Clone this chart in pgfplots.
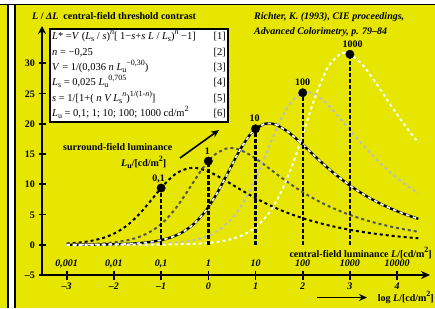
\documentclass[border=0pt]{standalone}
\usepackage{pgfplots}
\pgfplotsset{compat=1.18}
\usepackage{fontspec}
\setmainfont{Liberation Serif}
\usetikzlibrary{arrows.meta}
\definecolor{bgy}{RGB}{230,230,0}
\definecolor{dgray}{RGB}{85,85,85}
\definecolor{lgray}{RGB}{190,190,190}
\newcommand\sups[1]{\raisebox{0.42em}{\fontsize{8}{8}\selectfont #1}}
\newcommand\subs[1]{\raisebox{-0.22em}{\fontsize{8}{8}\selectfont #1}}
\begin{document}
\begin{tikzpicture}
\begin{scope}[x=1pt,y=-1pt]
\path[use as bounding box] (0,0) rectangle (435,308);
\fill[bgy] (0,0) rectangle (435,308);
\fill[white] (0,0) rectangle (435,3.5);
\fill[black] (0,3.5) rectangle (435,5);
\fill[black] (7,3.5) rectangle (8.7,308);
\fill[white] (8.7,5) rectangle (13.5,308);
\fill[black] (13.5,3.5) rectangle (15.5,308);
\end{scope}
\begin{axis}[at={(0pt,0pt)}, anchor=north west, scale only axis,
  width=435pt, height=308pt,
  xmin=-4.4131, xmax=4.8030, ymin=-10.455, ymax=40.463,
  hide axis, clip=false]
% Lu = 0.1
\addplot[black, line width=2pt, dash pattern=on 3pt off 3pt, smooth] coordinates {
(-3,0.200) (-2.9307,0.235) (-2.6807,0.414) (-2.4307,0.723) (-2.1807,1.249) (-1.9307,2.111) (-1.6807,3.446) (-1.4307,5.334) (-1.1807,7.656) (-0.9307,9.998) (-0.6807,11.790) (-0.4307,12.648) (-0.3286,12.722) (-0.1807,12.586) (0.0693,11.868) (0.3193,10.815) (0.5693,9.645) (0.8193,8.495) (1.0693,7.428) (1.3193,6.465) (1.5693,5.613) (1.8193,4.872) (2.0693,4.223) (2.3193,3.660) (2.5693,3.172) (2.8193,2.748) (3.0693,2.378) (3.3193,2.059) (3.5693,1.783) (3.8193,1.544) (4.0693,1.337) (4.3193,1.158) (4.45,1.074)};
% Lu = 1
\addplot[dgray, line width=2pt, dash pattern=on 3pt off 3pt, smooth] coordinates {
(-3,0.040) (-2.8767,0.053) (-2.6267,0.094) (-2.3767,0.167) (-2.1267,0.295) (-1.8767,0.520) (-1.6267,0.909) (-1.3767,1.569) (-1.1267,2.652) (-0.8767,4.331) (-0.6267,6.702) (-0.3767,9.619) (-0.1267,12.563) (0.1233,14.814) (0.3733,15.892) (0.4754,15.985) (0.6233,15.815) (0.8733,14.912) (1.1233,13.589) (1.3733,12.119) (1.6233,10.675) (1.8733,9.333) (2.1233,8.123) (2.3733,7.053) (2.6233,6.122) (2.8733,5.307) (3.1233,4.599) (3.3733,3.986) (3.6233,3.453) (3.8733,2.988) (4.1233,2.588) (4.45,2.144)};
% Lu = 10
\addplot[black, line width=2.4pt, smooth] coordinates {
(-3,0.008) (-2.8227,0.012) (-2.3227,0.0375) (-1.8227,0.1185) (-1.5727,0.210) (-1.3227,0.371) (-1.0727,0.653) (-0.8227,1.142) (-0.5727,1.971) (-0.3227,3.332) (-0.0727,5.439) (0.1773,8.418) (0.4273,12.082) (0.6773,15.779) (0.9273,18.607) (1.1773,19.961) (1.2794,20.078) (1.4273,19.864) (1.6773,18.730) (1.9273,17.068) (2.1773,15.222) (2.4273,13.408) (2.6773,11.723) (2.9273,10.203) (3.1773,8.859) (3.4273,7.689) (3.6773,6.665) (3.9273,5.777) (4.1773,5.006) (4.45,4.277)};
\addplot[white, line width=1.7pt, dash pattern=on 3.5pt off 3.5pt, smooth] coordinates {
(-3,0.008) (-2.8227,0.012) (-2.3227,0.0375) (-1.8227,0.1185) (-1.5727,0.210) (-1.3227,0.371) (-1.0727,0.653) (-0.8227,1.142) (-0.5727,1.971) (-0.3227,3.332) (-0.0727,5.439) (0.1773,8.418) (0.4273,12.082) (0.6773,15.779) (0.9273,18.607) (1.1773,19.961) (1.2794,20.078) (1.4273,19.864) (1.6773,18.730) (1.9273,17.068) (2.1773,15.222) (2.4273,13.408) (2.6773,11.723) (2.9273,10.203) (3.1773,8.859) (3.4273,7.689) (3.6773,6.665) (3.9273,5.777) (4.1773,5.006) (4.45,4.277)};
% Lu = 100
\addplot[lgray, line width=2pt, dash pattern=on 3pt off 3pt, smooth] coordinates {
(-3,0.0016) (-2.5187,0.0047) (-2.0187,0.0149) (-1.5187,0.0471) (-1.0187,0.1488) (-0.5187,0.4656) (-0.2687,0.820) (-0.0187,1.434) (0.2313,2.476) (0.4813,4.185) (0.7313,6.832) (0.9813,10.574) (1.2313,15.176) (1.4813,19.820) (1.7313,23.371) (1.9813,25.072) (2.0834,25.219) (2.2313,24.950) (2.4813,23.527) (2.7313,21.438) (2.9813,19.120) (3.2313,16.841) (3.4813,14.725) (3.7313,12.816) (3.9813,11.127) (4.2313,9.658) (4.45,8.522)};
% Lu = 1000
\addplot[white, line width=2pt, dash pattern=on 3pt off 3pt, smooth] coordinates {
(-3,0.0003) (-2.2149,0.0019) (-1.7149,0.0059) (-1.2149,0.0187) (-0.7149,0.0592) (-0.2149,0.187) (0.0351,0.331) (0.2851,0.585) (0.5351,1.030) (0.7851,1.801) (1.0351,3.110) (1.2851,5.257) (1.5351,8.583) (1.7851,13.283) (2.0351,19.065) (2.2851,24.899) (2.5351,29.360) (2.7851,31.497) (2.8872,31.682) (3.0351,31.343) (3.2851,29.555) (3.5351,26.932) (3.7851,24.019) (4.0351,21.156) (4.2851,18.498) (4.45,16.885)};
% vertical lines
\addplot[black, line width=2.4pt, dash pattern=on 3.5pt off 2.5pt] coordinates {(-1,0) (-1,9.38)};
\addplot[black, line width=2.4pt, dash pattern=on 3.5pt off 2.5pt] coordinates {(0,0) (0,13.83)};
\addplot[black, line width=2.4pt, dash pattern=on 3.5pt off 2.5pt] coordinates {(1,0) (1,19.17)};
\addplot[black, line width=2.4pt, dash pattern=on 3.5pt off 2.5pt] coordinates {(2,0) (2,25.13)};
\addplot[black, line width=2.4pt, dash pattern=on 3.5pt off 2.5pt] coordinates {(3,0) (3,31.49)};
% dots
\addplot[only marks, mark=*, mark size=4.2pt, black] coordinates {(-1,9.38) (0,13.83) (1,19.17) (2,25.13) (3,31.49)};
\node[font=\bfseries\fontsize{10}{12}\selectfont, anchor=base, yshift=7pt] at (axis cs:-1.05,9.38) {0,1};
\node[font=\bfseries\fontsize{10}{12}\selectfont, anchor=base, yshift=7pt] at (axis cs:-0.02,13.83) {1};
\node[font=\bfseries\fontsize{10}{12}\selectfont, anchor=base, yshift=7pt] at (axis cs:0.98,19.17) {10};
\node[font=\bfseries\fontsize{10}{12}\selectfont, anchor=base, yshift=7pt] at (axis cs:2,25.13) {100};
\node[font=\bfseries\fontsize{10}{12}\selectfont, anchor=base, yshift=7pt] at (axis cs:3.06,31.49) {1000};
\end{axis}
\begin{scope}[x=1pt,y=-1pt, font=\bfseries\fontsize{10}{12}\selectfont]
% axes
\draw[line width=1.6pt, -{Stealth[length=8pt,width=8pt]}] (42,275.8) -- (42,26);
\draw[line width=1.6pt, -{Stealth[length=9pt,width=8pt]}] (39,275) -- (430,275);
\foreach \v/\t in {-5/–5,0/0,5/5,10/10,15/15,20/20,25/25,30/30}{
  \draw[line width=1.6pt] (38.5,{244.76-6.049*\v}) -- (45.5,{244.76-6.049*\v});
  \node[anchor=base east, inner sep=0pt] at (35,{244.76-6.049*\v+3.5}) {\t};
}
\foreach \k/\a/\b in {-3/0{,}001/–3,-2/0{,}01/–2,-1/0{,}1/–1,0/1/0,1/10/1,2/100/2,3/1000/3,4/10000/4}{
  \draw[line width=1.6pt] ({208.3+47.2*\k},270.5) -- ({208.3+47.2*\k},279.5);
  \node[anchor=base, inner sep=0pt, font=\bfseries\itshape\fontsize{10}{12}\selectfont] at ({208.3+47.2*\k},266.5) {\a};
  \node[anchor=base, inner sep=0pt, font=\bfseries\itshape\fontsize{10}{12}\selectfont] at ({208.3+47.2*\k},289.5) {\b};
}
% titles
\node[anchor=base west, inner sep=0pt] at (32,19.5) {\textit{L} / \textit{ΔL}\ \ central-field threshold contrast};
\node[anchor=base west, inner sep=0pt, font=\bfseries\itshape\fontsize{10}{12}\selectfont] at (254,19.5) {Richter, K. (1993), CIE proceedings,};
\node[anchor=base west, inner sep=0pt, font=\bfseries\itshape\fontsize{10}{12}\selectfont] at (254,34.5) {Advanced Colorimetry, p. 79–84};
\node[anchor=base east, inner sep=0pt] at (432,257) {central-field luminance \textit{L}/[cd/m\sups{2}]};
\draw[line width=1.6pt, -{Stealth[length=8pt,width=7pt]}] (317,297.5) -- (367,297.5);
\node[anchor=base east, inner sep=0pt] at (434,301) {log \textit{L}/[cd/m\sups{2}]};
% surround text
\node[anchor=base west, inner sep=0pt] at (63,150.5) {surround-field luminance};
\node[anchor=base west, inner sep=0pt] at (121,166) {\textit{L}\subs{u}/[cd/m\sups{2}]};
\draw[line width=1.6pt, -{Stealth[length=8pt,width=7pt]}] (180,158) -- (219,130);
% formula box
\draw[fill=white, line width=1.5pt] (50,29) rectangle (228,122);
\begin{scope}[font=\mdseries\upshape\fontsize{10.5}{12}\selectfont]
\node[anchor=base west, inner sep=0pt] at (52,39) {\textit{L}* =\textit{V} (\textit{L}\subs{s} / \textit{s})\sups{\textit{n}}[ 1−\textit{s}+\textit{s L} / \textit{L}\subs{s})\sups{\textit{n}} −1]};
\node[anchor=base west, inner sep=0pt] at (52,55) {\textit{n} = −0,25};
\node[anchor=base west, inner sep=0pt] at (52,70) {\textit{V} = 1/(0,036 \textit{n L}\subs{u}\sups{−0,30})};
\node[anchor=base west, inner sep=0pt] at (52,85) {\textit{L}\subs{s} = 0,025 \textit{L}\subs{u}\sups{0,705}};
\node[anchor=base west, inner sep=0pt] at (52,101) {\textit{s} = 1/[1+( \textit{n V L}\subs{s}\sups{\textit{n}})\sups{1/(1-\textit{n})}]};
\node[anchor=base west, inner sep=0pt] at (52,116) {\textit{L}\subs{u} = 0,1; 1; 10; 100; 1000 cd/m\sups{2}};
\foreach \i/\yy in {1/39,2/55,3/70,4/85,5/101,6/116}{
  \node[anchor=base east, inner sep=0pt] at (226,\yy) {[\i]};
}
\end{scope}
\end{scope}
\end{tikzpicture}
\end{document}
